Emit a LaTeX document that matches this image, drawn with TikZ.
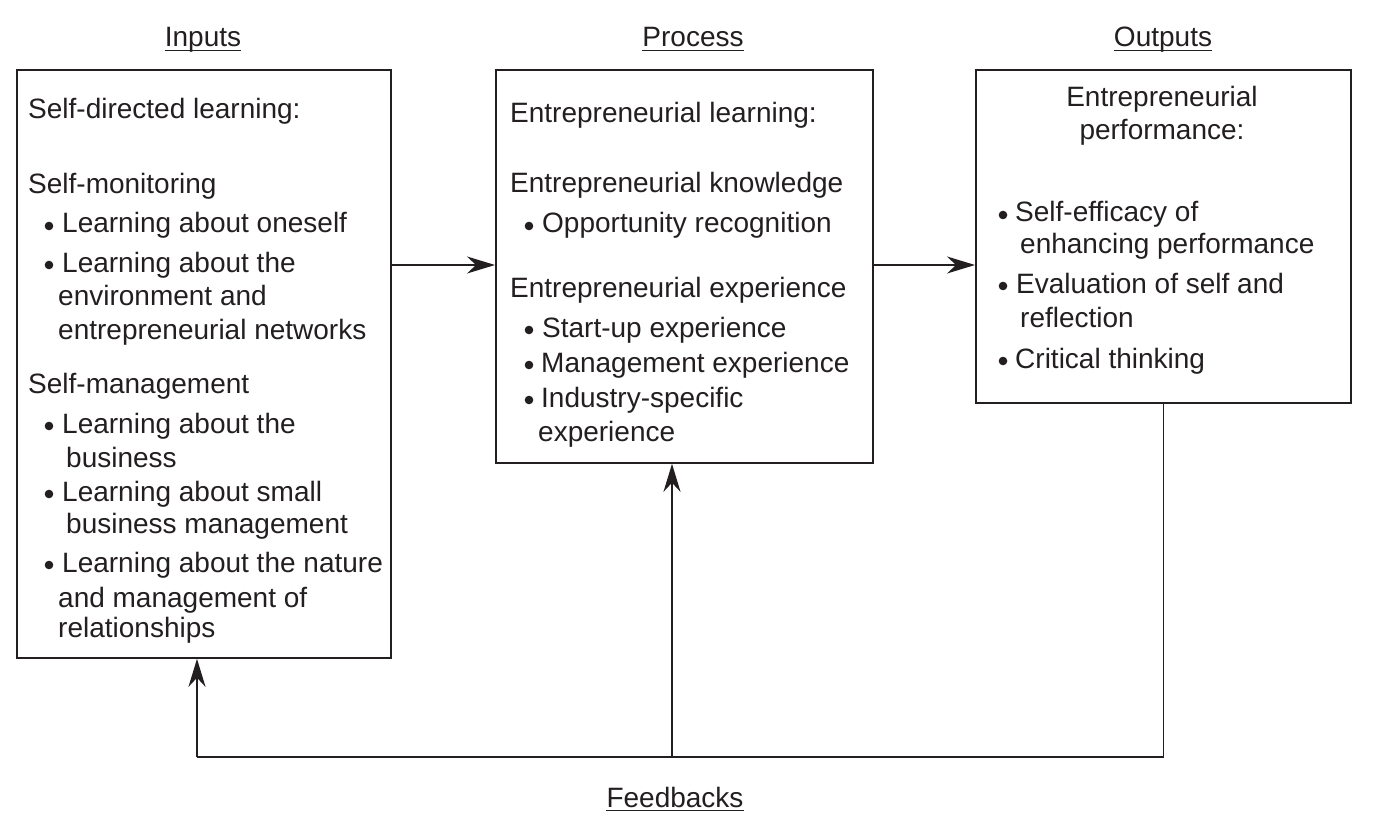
\documentclass[tikz,border=0pt]{standalone}
\usepackage{fontspec}
\setmainfont{Liberation Sans}
\usetikzlibrary{arrows.meta}
\definecolor{ink}{HTML}{231F20}
\begin{document}
\begin{tikzpicture}[x=1pt,y=-1pt,
  txt/.style={font=\fontsize{28pt}{33pt}\selectfont, inner sep=0pt, text=ink, anchor=base west},
  ttl/.style={txt, anchor=base},
  box/.style={draw=ink, line width=1.8pt, anchor=north west, inner sep=0pt},
  conn/.style={draw=ink, line width=1.8pt},
  arr/.style={conn, -{Stealth[length=28pt,width=17pt,inset=9pt]}},
  uline/.style={draw=ink, line width=1.4pt},
  bul/.style={fill=ink}]
\useasboundingbox (0,0) rectangle (1381,821);
\fill[white] (0,0) rectangle (1381,821);

% boxes
\node[box, minimum width=374pt, minimum height=588pt] (in) at (16,69) {};
\node[box, minimum width=377pt, minimum height=393pt] (pr) at (495,69) {};
\node[box, minimum width=375pt, minimum height=333pt] (out) at (975,69) {};

% titles
\node[ttl] (tin) at (203,47) {Inputs};
\node[ttl] (tpr) at (693,47) {Process};
\node[ttl] (tout) at (1163,47) {Outputs};
\node[ttl] (tfb) at (675,807) {Feedbacks};
\foreach \t in {tin,tpr,tout,tfb}
  \draw[uline] ([yshift=-3.5pt]\t.base west) -- ([yshift=-3.5pt]\t.base east);

% Inputs text
\node[txt] (i1) at (28,119) {Self-directed learning:};
\node[txt] (i2) at (28,194) {Self-monitoring};
\fill[bul] (49,226) circle (4.3);
\node[txt] (i3) at (62,233) {Learning about oneself};
\fill[bul] (49,265) circle (4.3);
\node[txt] (i4) at (62,272) {Learning about the};
\node[txt] (i5) at (58,305) {environment and};
\node[txt] (i6) at (58,339) {entrepreneurial networks};
\node[txt] (i7) at (28,393) {Self-management};
\fill[bul] (49,426) circle (4.3);
\node[txt] (i8) at (62,433) {Learning about the};
\node[txt] (i9) at (66,467) {business};
\fill[bul] (49,494) circle (4.3);
\node[txt] (i10) at (62,501) {Learning about small};
\node[txt] (i11) at (66,533) {business management};
\fill[bul] (49,565) circle (4.3);
\node[txt] (i12) at (62,572) {Learning about the nature};
\node[txt] (i13) at (58,607) {and management of};
\node[txt] (i14) at (58,637) {relationships};

% Process text
\node[txt] (p1) at (510,123) {Entrepreneurial learning:};
\node[txt] (p2) at (510,193) {Entrepreneurial knowledge};
\fill[bul] (529,226) circle (4.3);
\node[txt] (p3) at (542,233) {Opportunity recognition};
\node[txt] (p4) at (510,297) {Entrepreneurial experience};
\fill[bul] (529,330) circle (4.3);
\node[txt] (p5) at (542,337) {Start-up experience};
\fill[bul] (529,365) circle (4.3);
\node[txt] (p6) at (541,372) {Management experience};
\fill[bul] (529,400) circle (4.3);
\node[txt] (p7) at (541,407) {Industry-specific};
\node[txt] (p8) at (538,441) {experience};

% Outputs text
\node[ttl] (o1) at (1162,107) {Entrepreneurial};
\node[ttl] (o2) at (1162,140) {performance:};
\fill[bul] (1003,215) circle (4.3);
\node[txt] (o3) at (1015,222) {Self-efficacy of};
\node[txt] (o4) at (1020,253) {enhancing performance};
\fill[bul] (1003,286) circle (4.3);
\node[txt] (o5) at (1016,293) {Evaluation of self and};
\node[txt] (o6) at (1020,327) {reflection};
\fill[bul] (1003,361) circle (4.3);
\node[txt] (o7) at (1015,368) {Critical thinking};

% connectors
\coordinate (a) at (0,265);
\draw[arr] (in.east |- a) -- (pr.west |- a);
\draw[arr] (pr.east |- a) -- (out.west |- a);
\coordinate (fb) at (0,757);
\coordinate (fl) at (197,757);
\coordinate (fm) at (672,757);
\draw[conn] (out.south) -- (out.south |- fb) -- (fl);
\draw[arr] (fl) -- (fl |- in.south);
\draw[arr] (fm) -- (fm |- pr.south);
\end{tikzpicture}
\end{document}
